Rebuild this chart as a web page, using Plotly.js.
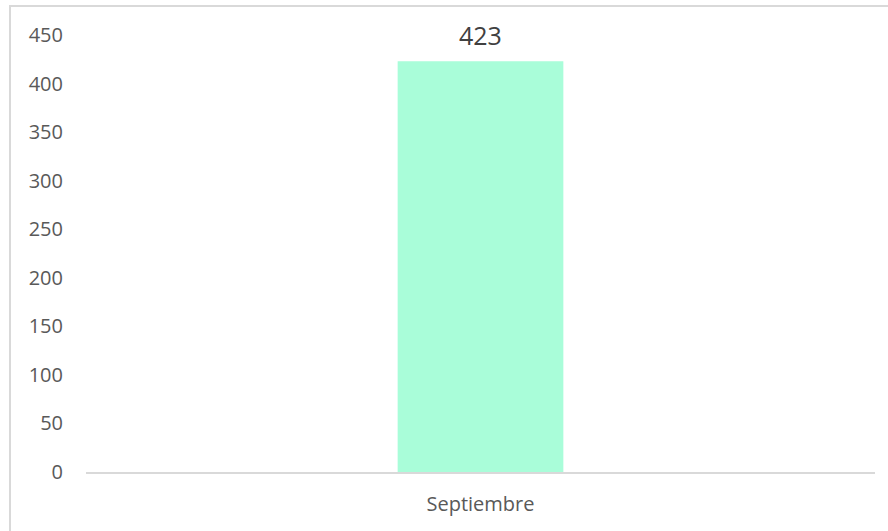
<!DOCTYPE html>
<html>
<head>
<meta charset="utf-8">
<script src="https://cdn.plot.ly/plotly-3.0.1.min.js"></script>
<style>
html,body{margin:0;padding:0;background:#fff;}
#wrap{position:relative;width:888px;height:531px;overflow:hidden;}
#chart{position:absolute;left:0;top:0;width:888px;height:531px;}
#frame{position:absolute;left:9px;top:5px;width:900px;height:600px;border-left:2px solid #d9d9d9;border-top:2px solid #d9d9d9;pointer-events:none;}
</style>
</head>
<body>
<div id="wrap"><div id="chart"></div><div id="frame"></div></div>
<script>
const categories = ["Septiembre"];
const values = [423];
const yTicks = [0, 50, 100, 150, 200, 250, 300, 350, 400, 450];

const FONT = "Open Sans, Liberation Sans, sans-serif";

const trace = {
  type: "bar",
  x: categories,
  y: values,
  marker: {color: "#a9fdd9"},
  hoverinfo: "none"
};

const annotations = categories.map((c, i) => ({
  x: c, y: values[i], xref: "x", yref: "y",
  text: String(values[i]),
  showarrow: false,
  xanchor: "center", yanchor: "middle",
  yshift: 26,
  font: {family: FONT, size: 25, color: "#404040"}
}));

const layout = {
  width: 888, height: 531,
  margin: {l: 86, r: 13, t: 35, b: 59},
  paper_bgcolor: "#ffffff",
  plot_bgcolor: "#ffffff",
  bargap: 0.79,
  showlegend: false,
  font: {family: FONT, size: 20, color: "#595959"},
  annotations: annotations,
  xaxis: {
    showline: true, linecolor: "#d9d9d9", linewidth: 2,
    showgrid: false, zeroline: false, ticks: "",
    ticklabelstandoff: 13,
    tickfont: {family: FONT, size: 20, color: "#595959"}
  },
  yaxis: {
    range: [0, 450], tickvals: yTicks,
    showline: false, showgrid: false, zeroline: false, ticks: "",
    ticklabelstandoff: 22,
    tickfont: {family: FONT, size: 20, color: "#595959"}
  }
};

Plotly.newPlot("chart", [trace], layout, {displayModeBar: false, staticPlot: true});
</script>
</body>
</html>
